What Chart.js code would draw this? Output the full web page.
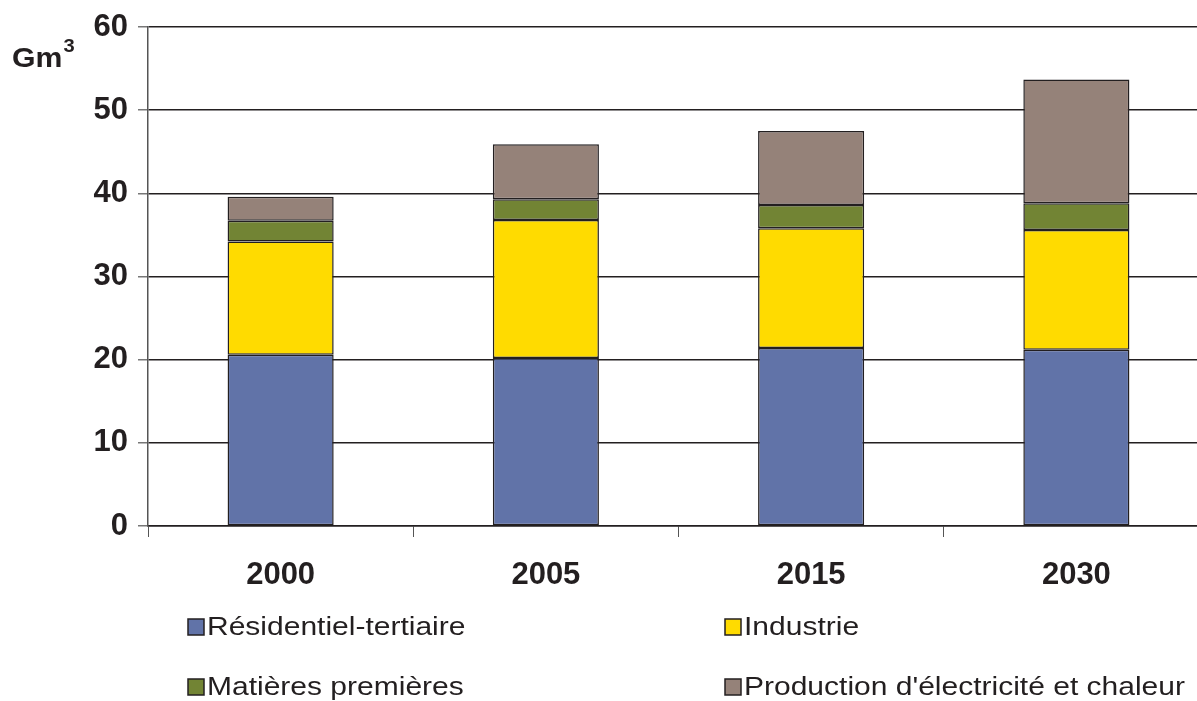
<!DOCTYPE html>
<html>
<head>
<meta charset="utf-8">
<script src="https://cdn.jsdelivr.net/npm/chart.js@4"></script>
<style>
  html, body { margin: 0; padding: 0; background: #fff; overflow: hidden; }
  #wrap { width: 1209px; height: 701px; position: relative; }
</style>
</head>
<body>
<div id="wrap"><canvas id="c"></canvas></div>
<script>
// données (Gm3)
const annees = ["2000", "2005", "2015", "2030"];
const residentiel = [20.6, 20.2, 21.4, 21.2];
const industrie = [13.6, 16.6, 14.4, 14.4];
const matieres = [2.5, 2.5, 2.8, 3.2];
const production = [2.9, 6.6, 8.9, 14.9];
const noms = ["Résidentiel-tertiaire", "Industrie", "Matières premières", "Production d'électricité et chaleur"];
const couleurs = ["#6173a8", "#ffdb00", "#728434", "#958279"];
const yTicks = [0, 10, 20, 30, 40, 50, 60];

const series = [residentiel, industrie, matieres, production];

// legende 2x2 + titre Gm3
const extras = {
  id: "extras",
  afterDraw(chart) {
    const ctx = chart.ctx;
    ctx.save();
    ctx.fillStyle = "#231f20";
    ctx.textBaseline = "alphabetic";
    ctx.textAlign = "left";
    ctx.save();
    ctx.translate(12, 67);
    ctx.scale(1.12, 1);
    ctx.font = "bold 27px 'Liberation Sans', Arial";
    ctx.fillText("Gm", 0, 0);
    ctx.font = "bold 18px 'Liberation Sans', Arial";
    ctx.fillText("3", 46, -15);
    ctx.restore();

    const pos = [[188, 627], [725, 627], [188, 687], [725, 687]];
    noms.forEach((n, i) => {
      const [x, y] = pos[i];
      ctx.fillStyle = couleurs[i];
      ctx.fillRect(x, y - 8, 16, 16);
      ctx.strokeStyle = "#231f20";
      ctx.lineWidth = 1.5;
      ctx.strokeRect(x, y - 8, 16, 16);
      ctx.fillStyle = "#231f20";
      ctx.save();
      ctx.translate(x + 19, y + 1);
      ctx.scale(1.2, 1);
      ctx.font = "25px 'Liberation Sans', Arial";
      ctx.textBaseline = "middle";
      ctx.fillText(n, 0, 0);
      ctx.restore();
    });
    ctx.restore();
  }
};

new Chart(document.getElementById("c"), {
  type: "bar",
  data: {
    labels: annees,
    datasets: series.map((d, i) => ({
      label: noms[i],
      data: d,
      backgroundColor: couleurs[i],
      borderColor: "#231f20",
      borderWidth: 1.5,
      borderSkipped: false,
      categoryPercentage: 0.4,
      barPercentage: 1
    }))
  },
  options: {
    responsive: true,
    maintainAspectRatio: false,
    animation: false,
    layout: { padding: { top: 27, right: 0, bottom: 115, left: 0 } },
    plugins: { legend: { display: false }, tooltip: { enabled: false } },
    scales: {
      x: {
        stacked: true,
        grid: { offset: true, drawOnChartArea: false, tickLength: 11, color: "#555", lineWidth: 1 },
        border: { color: "#231f20", width: 1.5 },
        ticks: { color: "#231f20", font: { family: "'Liberation Sans', Arial", size: 31, weight: "bold" }, padding: 20 },
        afterFit(s) { s.height = 60; }
      },
      y: {
        stacked: true,
        min: 0, max: 60,
        afterBuildTicks(s) { s.ticks = yTicks.map(v => ({ value: v })); },
        grid: { color: "#231f20", lineWidth: 1.5, tickLength: 10, tickColor: "#777" },
        border: { color: "#555", width: 1.5 },
        ticks: { color: "#231f20", font: { family: "'Liberation Sans', Arial", size: 31, weight: "bold", lineHeight: 0.8 }, padding: 10 },
        afterFit(s) { s.width = 148; }
      }
    }
  },
  plugins: [extras]
});
</script>
</body>
</html>
